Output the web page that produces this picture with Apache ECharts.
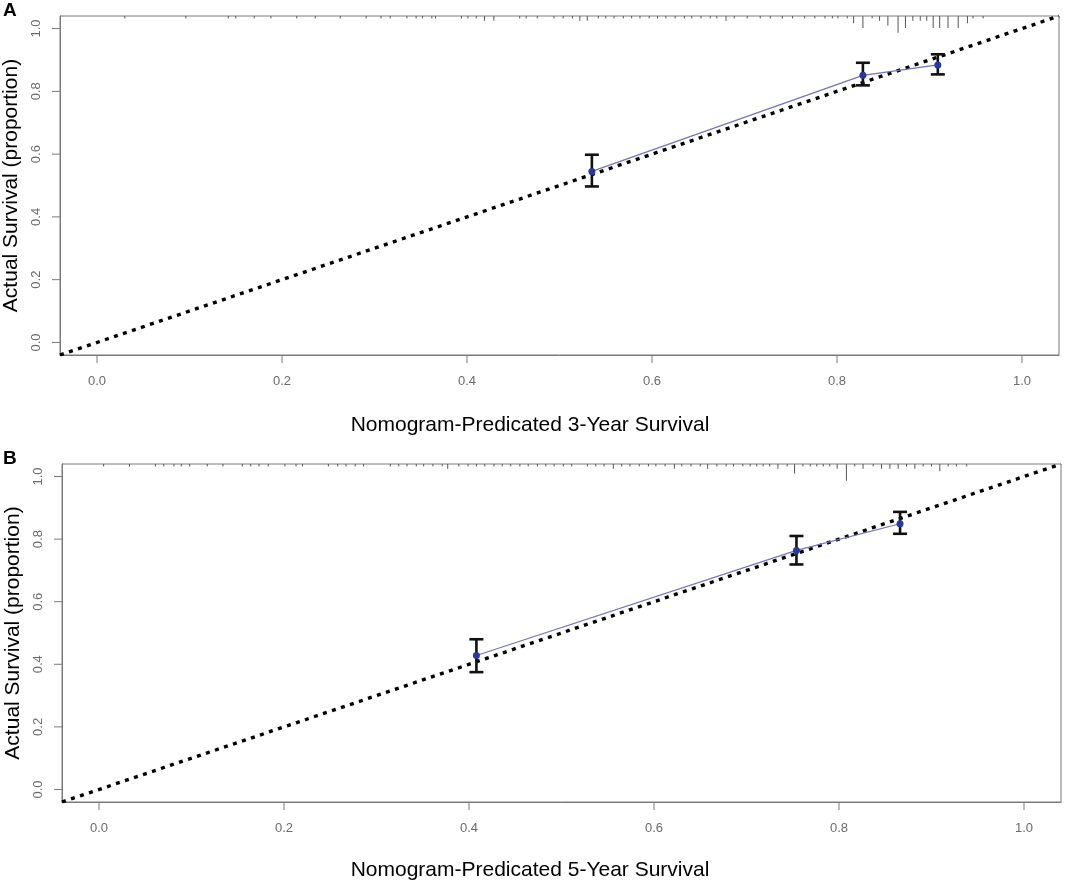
<!DOCTYPE html>
<html>
<head>
<meta charset="utf-8">
<script src="https://cdn.jsdelivr.net/npm/echarts@6/dist/echarts.min.js"></script>
<style>
  html, body { margin: 0; padding: 0; background: #fff; }
  #chart { width: 1065px; height: 883px; }
</style>
</head>
<body>
<div id="chart"></div>
<script>
/* -------------------------------------------------------------------------- */
// Calibration curves, 3-year (A) and 5-year (B)
var axisRange = [-0.04, 1.04];
var axisTicks = [0, 0.2, 0.4, 0.6, 0.8, 1.0];
var panelLabels = ['A', 'B'];
var xTitles = ['Nomogram-Predicated 3-Year Survival', 'Nomogram-Predicated 5-Year Survival'];
var yTitle = 'Actual Survival (proportion)';

// panel A
var predA = [0.535, 0.828, 0.909];
var obsA = [0.545, 0.851, 0.884];
var lowA = [0.497, 0.819, 0.854];
var highA = [0.598, 0.891, 0.918];
var rugA = [0.030, 0.096, 0.142, 0.150, 0.170, 0.188, 0.216, 0.236, 0.263, 0.291, 0.307, 0.317,
  0.335, 0.345, 0.352, 0.362, 0.366, 0.394, 0.401, 0.410, 0.419, 0.429, 0.457, 0.464, 0.476,
  0.494, 0.504, 0.514, 0.522, 0.530, 0.542, 0.550, 0.559, 0.569, 0.578, 0.587, 0.597, 0.606,
  0.615, 0.625, 0.635, 0.643, 0.653, 0.663, 0.670, 0.680, 0.689, 0.703, 0.717, 0.728, 0.741,
  0.752, 0.765, 0.776, 0.787, 0.795, 0.801, 0.811, 0.818, 0.828, 0.838, 0.846, 0.855, 0.866,
  0.874, 0.882, 0.890, 0.897, 0.904, 0.911, 0.920, 0.931, 0.941, 0.947, 0.958];
var rugCountA = [1, 1, 1, 1, 1, 1, 1, 1, 1, 1, 1, 1,
  1, 1, 1, 1, 1, 1, 1, 1, 2, 2, 1, 1, 1,
  1, 1, 1, 2, 2, 1, 1, 1, 1, 1, 1, 1, 1,
  1, 1, 1, 1, 1, 1, 1, 2, 1, 1, 1, 1, 1,
  1, 1, 1, 1, 1, 1, 1, 3, 5, 1, 2, 4, 7,
  5, 2, 2, 2, 5, 5, 5, 5, 3, 1, 1];

// panel B
var predB = [0.408, 0.754, 0.866];
var obsB = [0.428, 0.764, 0.849];
var lowB = [0.375, 0.719, 0.817];
var highB = [0.480, 0.810, 0.887];
var rugB = [0.005, 0.033, 0.061, 0.070, 0.081, 0.089, 0.098, 0.117, 0.134, 0.155, 0.164, 0.173,
  0.183, 0.201, 0.213, 0.220, 0.248, 0.258, 0.267, 0.277, 0.286, 0.315, 0.324, 0.333, 0.343,
  0.351, 0.361, 0.371, 0.377, 0.389, 0.399, 0.408, 0.417, 0.427, 0.436, 0.445, 0.455, 0.464,
  0.474, 0.483, 0.492, 0.502, 0.511, 0.528, 0.537, 0.546, 0.556, 0.565, 0.574, 0.584, 0.594,
  0.602, 0.612, 0.622, 0.630, 0.640, 0.650, 0.658, 0.668, 0.678, 0.686, 0.696, 0.704, 0.711,
  0.718, 0.725, 0.734, 0.744, 0.752, 0.761, 0.769, 0.776, 0.783, 0.790, 0.798, 0.808, 0.817,
  0.826, 0.837, 0.846, 0.855, 0.864, 0.873, 0.882, 0.891, 0.900, 0.909, 0.918, 0.927, 0.938];
var rugCountB = [1, 1, 1, 1, 1, 1, 1, 1, 1, 1, 1, 1,
  1, 1, 1, 1, 1, 1, 1, 1, 1, 1, 1, 1, 1,
  1, 1, 1, 2, 1, 1, 1, 1, 1, 1, 1, 1, 1,
  1, 1, 1, 1, 1, 1, 1, 1, 2, 1, 1, 1, 1,
  1, 1, 2, 1, 1, 1, 2, 1, 1, 1, 1, 1, 1,
  1, 1, 2, 1, 4, 1, 1, 1, 1, 1, 2, 7, 1,
  2, 1, 2, 2, 2, 1, 2, 1, 1, 3, 1, 1, 1];

var font = "'Liberation Sans', Arial, sans-serif";
var tickGrey = '#6b6b6b';
var boxGrey = '#7a7a7a';
var tickLen = 8;

var zip = function zip(a, b) {
  return a.map(function (v, i) { return [v, b[i]]; });
};

var errorBarItem = function errorBarItem(params, api) {
  var x = api.value(0);
  var lo = api.coord([x, api.value(1)]);
  var hi = api.coord([x, api.value(2)]);
  var half = 7;
  var st = { stroke: '#111', lineWidth: 2.6 };
  return {
    type: 'group',
    children: [
      { type: 'line', shape: { x1: lo[0], y1: lo[1], x2: hi[0], y2: hi[1] }, style: st },
      { type: 'line', shape: { x1: lo[0] - half, y1: lo[1], x2: lo[0] + half, y2: lo[1] }, style: st },
      { type: 'line', shape: { x1: hi[0] - half, y1: hi[1], x2: hi[0] + half, y2: hi[1] }, style: st }
    ]
  };
};

var rugItem = function rugItem(params, api) {
  var p = api.coord([api.value(0), axisRange[1]]);
  return {
    type: 'line',
    shape: { x1: p[0], y1: p[1], x2: p[0], y2: p[1] + api.value(1) * 2.4 },
    style: { stroke: '#555', lineWidth: 1 }
  };
};

// R-style outside ticks on both axes, only at the labelled values
var tickItem = function tickItem(params, api) {
  var v = api.value(0);
  var px = api.coord([v, axisRange[0]]);
  var py = api.coord([axisRange[0], v]);
  var st = { stroke: boxGrey, lineWidth: 1 };
  return {
    type: 'group',
    children: [
      { type: 'line', shape: { x1: px[0], y1: px[1], x2: px[0], y2: px[1] + tickLen }, style: st },
      { type: 'line', shape: { x1: py[0], y1: py[1], x2: py[0] - tickLen, y2: py[1] }, style: st }
    ]
  };
};

var makeXAxis = function makeXAxis(gridIndex) {
  return {
    gridIndex: gridIndex,
    type: 'value',
    min: axisRange[0],
    max: axisRange[1],
    axisLine: { show: true, onZero: false, lineStyle: { color: boxGrey, width: 1 } },
    splitLine: { show: false },
    axisTick: { show: false },
    axisLabel: {
      customValues: axisTicks,
      margin: 20,
      color: tickGrey,
      fontSize: 13,
      fontFamily: font,
      formatter: function (v) { return v.toFixed(1); }
    }
  };
};

var makeYAxis = function makeYAxis(gridIndex) {
  return {
    gridIndex: gridIndex,
    type: 'value',
    min: axisRange[0],
    max: axisRange[1],
    name: yTitle,
    nameLocation: 'middle',
    nameGap: 37,
    nameRotate: 90,
    nameTextStyle: { color: '#000', fontSize: 21, fontFamily: font },
    axisLine: { show: true, onZero: false, lineStyle: { color: boxGrey, width: 1 } },
    splitLine: { show: false },
    axisTick: { show: false },
    axisLabel: {
      customValues: axisTicks,
      rotate: 90,
      margin: 17,
      color: tickGrey,
      fontSize: 13,
      fontFamily: font,
      formatter: function (v) { return v.toFixed(1); }
    }
  };
};

var makeSeries = function makeSeries(idx, pred, obs, low, high, rug, rugCount) {
  return [{
    type: 'custom',
    xAxisIndex: idx,
    yAxisIndex: idx,
    renderItem: tickItem,
    data: axisTicks.map(function (t) { return [t]; }),
    clip: false,
    silent: true,
    z: 1
  }, {
    type: 'line',
    xAxisIndex: idx,
    yAxisIndex: idx,
    data: [[axisRange[0], axisRange[0]], [axisRange[1], axisRange[1]]],
    symbol: 'none',
    silent: true,
    lineStyle: { color: '#000', width: 3.4, type: [4, 5.5] },
    z: 2
  }, {
    type: 'custom',
    xAxisIndex: idx,
    yAxisIndex: idx,
    renderItem: rugItem,
    data: zip(rug, rugCount),
    clip: false,
    z: 3
  }, {
    type: 'custom',
    xAxisIndex: idx,
    yAxisIndex: idx,
    renderItem: errorBarItem,
    data: pred.map(function (p, i) { return [p, low[i], high[i]]; }),
    z: 4
  }, {
    type: 'line',
    xAxisIndex: idx,
    yAxisIndex: idx,
    data: zip(pred, obs),
    symbol: 'circle',
    symbolSize: 7,
    itemStyle: { color: '#27399a' },
    lineStyle: { color: '#7474b8', width: 1.2 },
    z: 5
  }];
};

var chart = echarts.init(document.getElementById('chart'), null, { renderer: 'canvas' });

chart.setOption({
  animation: false,
  backgroundColor: '#fff',
  grid: [
    { left: 60, top: 16, width: 999, height: 339, outerBoundsMode: 'none', show: true, borderColor: boxGrey, borderWidth: 1, backgroundColor: 'transparent' },
    { left: 62, top: 464, width: 999, height: 338, outerBoundsMode: 'none', show: true, borderColor: boxGrey, borderWidth: 1, backgroundColor: 'transparent' }
  ],
  xAxis: [makeXAxis(0), makeXAxis(1)],
  yAxis: [makeYAxis(0), makeYAxis(1)],
  graphic: [
    { type: 'text', left: 3, top: 1, style: { text: panelLabels[0], font: 'bold 19px ' + font, fill: '#000' } },
    { type: 'text', left: 3, top: 449, style: { text: panelLabels[1], font: 'bold 19px ' + font, fill: '#000' } },
    { type: 'text', x: 530, y: 415, style: { text: xTitles[0], font: '21px ' + font, fill: '#000', textAlign: 'center', textVerticalAlign: 'top' } },
    { type: 'text', x: 530, y: 860, style: { text: xTitles[1], font: '21px ' + font, fill: '#000', textAlign: 'center', textVerticalAlign: 'top' } }
  ],
  series: makeSeries(0, predA, obsA, lowA, highA, rugA, rugCountA)
    .concat(makeSeries(1, predB, obsB, lowB, highB, rugB, rugCountB))
});
/* -------------------------------------------------------------------------- */
</script>
</body>
</html>
